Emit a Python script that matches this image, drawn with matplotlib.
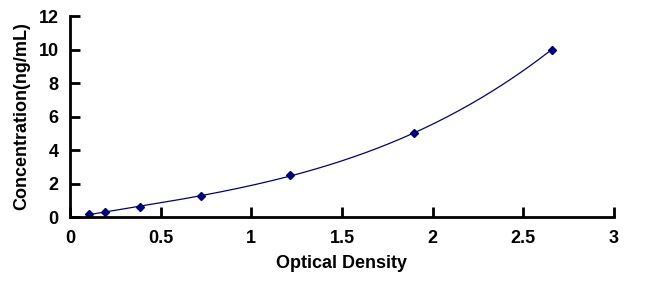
import numpy as np
import matplotlib.pyplot as plt

# standard curve points
od = np.array([0.106, 0.193, 0.389, 0.725, 1.211, 1.899, 2.656])
conc = np.array([0.156, 0.312, 0.625, 1.25, 2.5, 5.0, 10.0])
xticks = [0, 0.5, 1, 1.5, 2, 2.5, 3]
xticklabels = ['0', '0.5', '1', '1.5', '2', '2.5', '3']
yticks = [0, 2, 4, 6, 8, 10, 12]

plt.rcParams['font.family'] = ['Liberation Sans', 'DejaVu Sans']
plt.rcParams['font.weight'] = 'bold'

fig = plt.figure(figsize=(6.47, 2.91), dpi=100)
ax = fig.add_axes([0.108, 0.254, 0.841, 0.691])

# fitted curve
coef = np.polyfit(od, conc, 3)
xs = np.linspace(od.min(), od.max(), 200)
ax.plot(xs, np.polyval(coef, xs), color='#000080', lw=0.9)
ax.plot(od, conc, 'D', color='#000080', ms=4.5)

ax.set_xlim(0, 3)
ax.set_ylim(0, 12)
ax.set_xticks(xticks)
ax.set_xticklabels(xticklabels)
ax.set_yticks(yticks)
for s in ['top', 'right']:
    ax.spines[s].set_visible(False)
for s in ['left', 'bottom']:
    ax.spines[s].set_linewidth(2)
ax.tick_params(direction='in', length=7, width=2, labelsize=13)
ax.tick_params(axis='x', pad=9)
ax.tick_params(axis='y', pad=8)
ax.set_xlabel('Optical Density', fontsize=13, fontweight='bold', labelpad=6)
ax.set_ylabel('Concentration(ng/mL)', fontsize=13, fontweight='bold', labelpad=6)

fig.savefig('out.png')
